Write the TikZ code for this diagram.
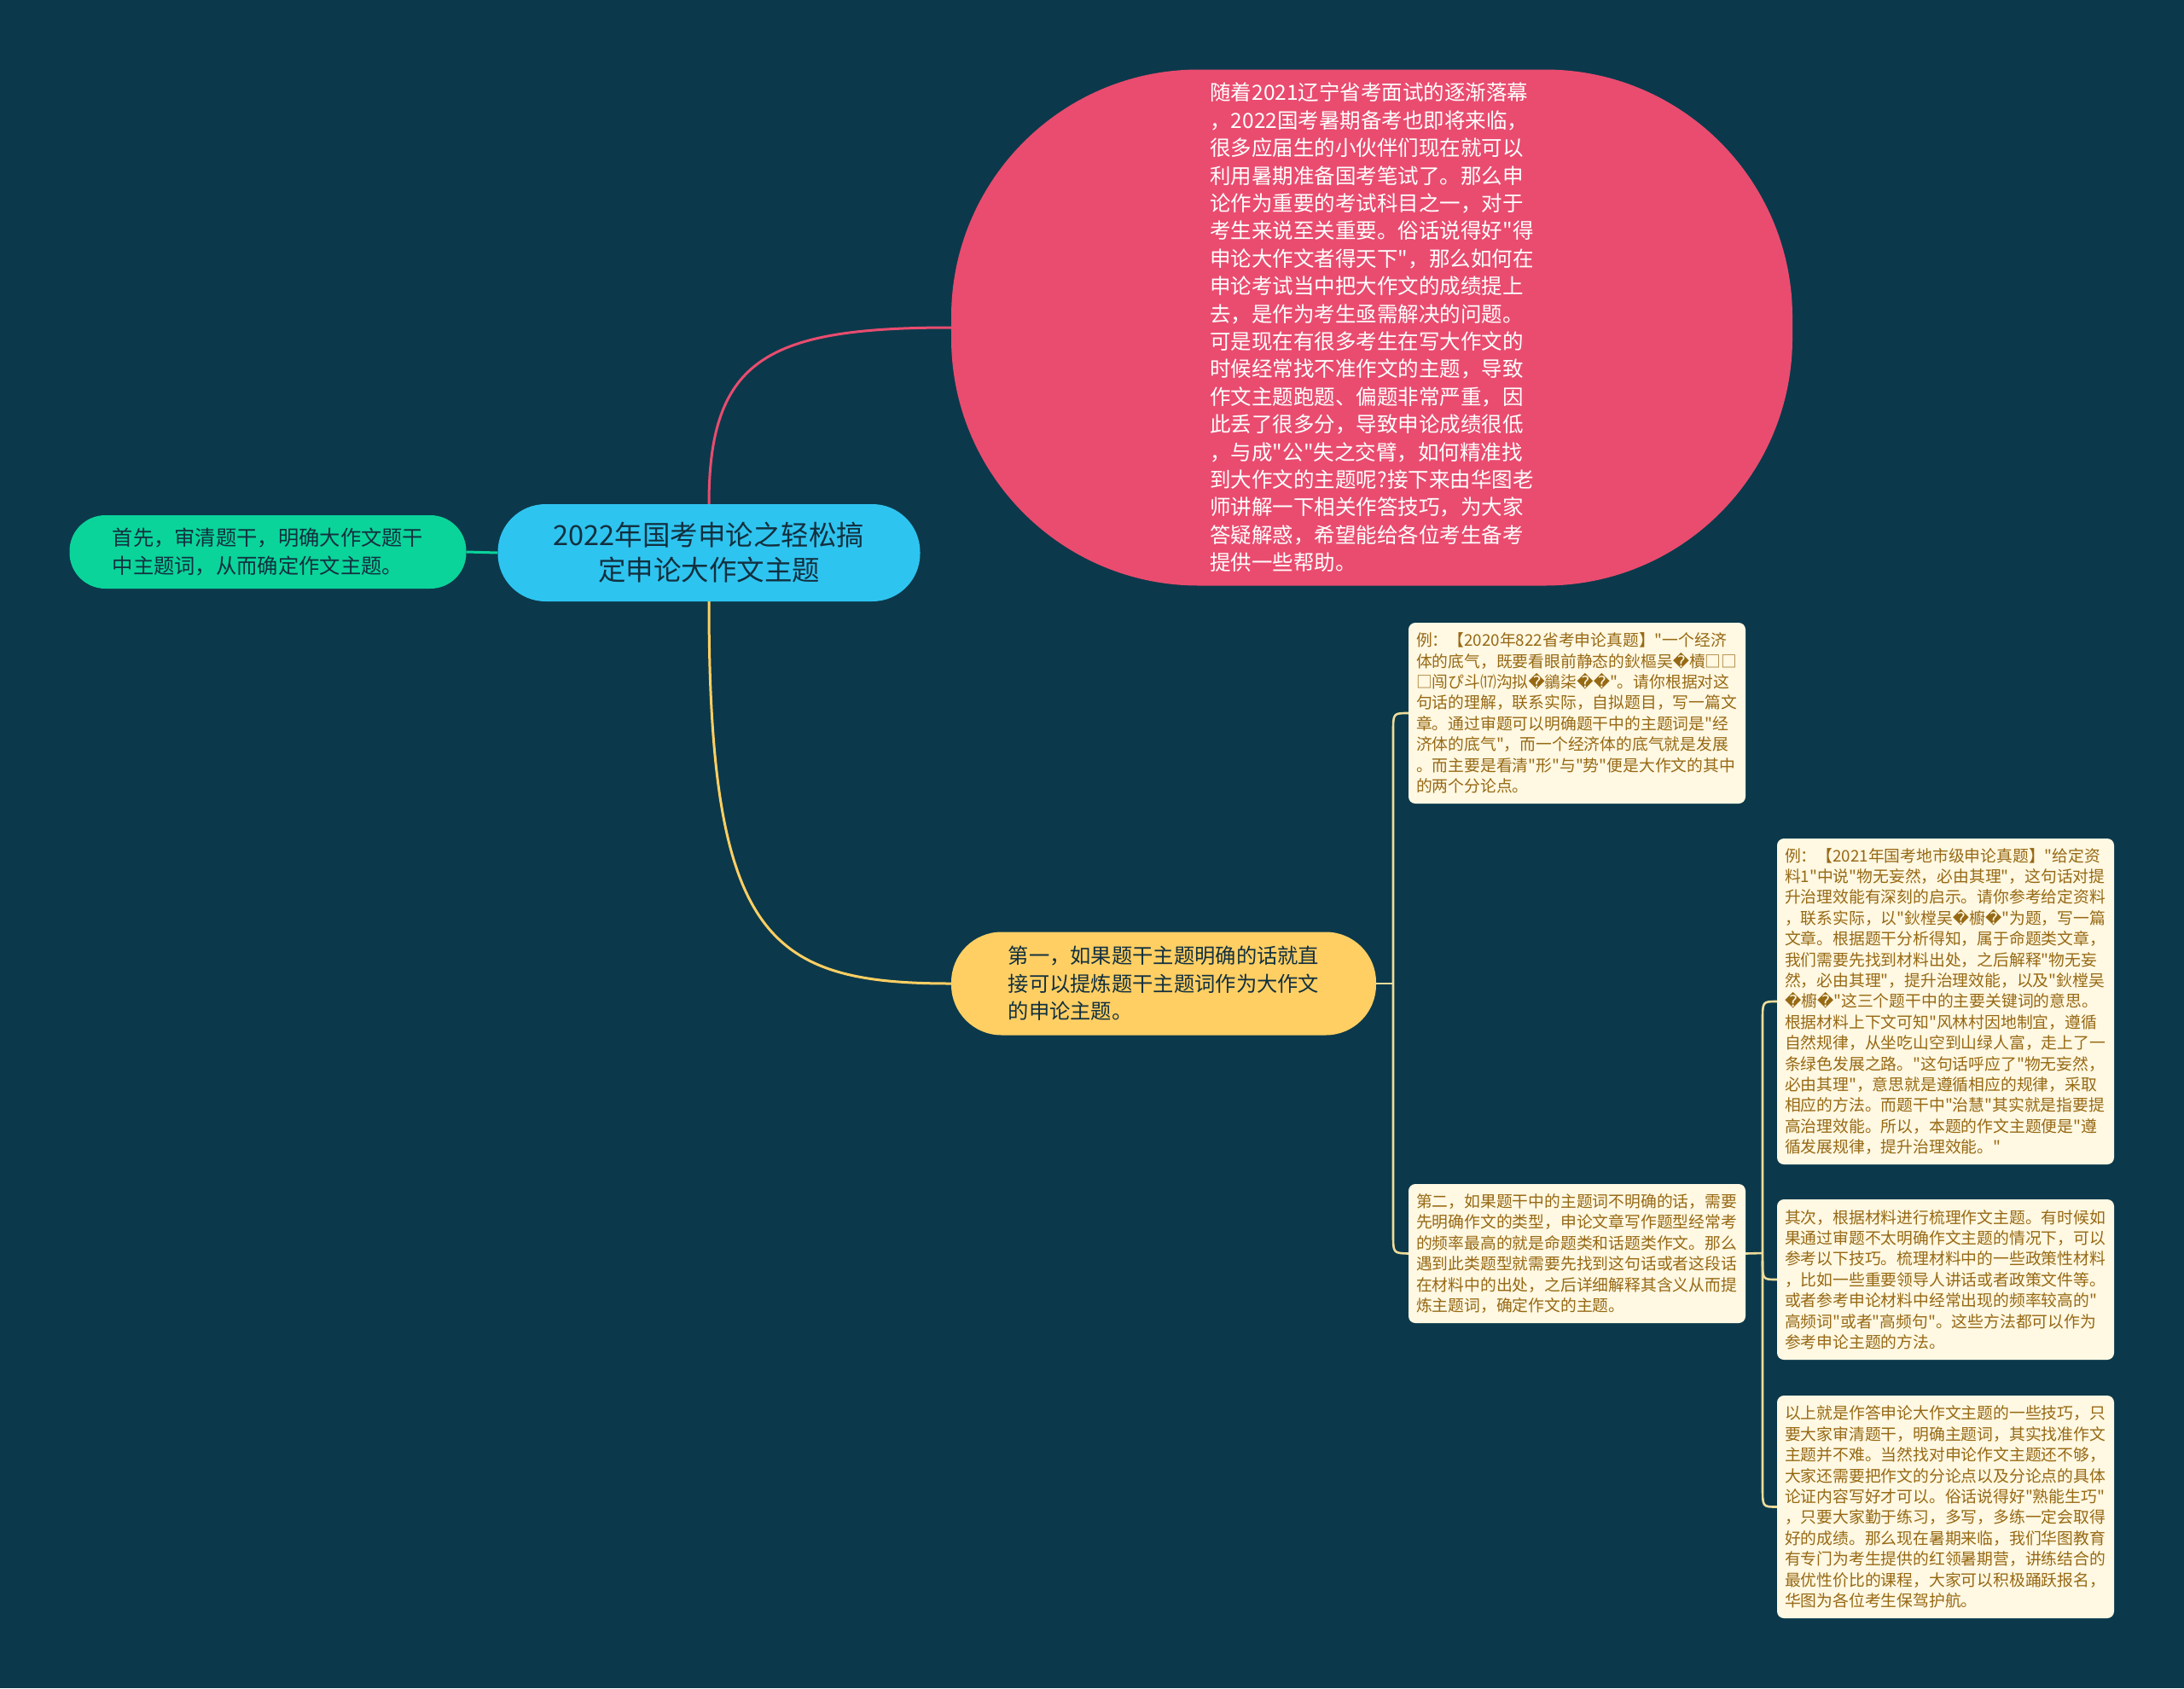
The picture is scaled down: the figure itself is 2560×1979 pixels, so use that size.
\documentclass[tikz,border=0pt]{standalone}
\usepackage{fontspec}
\setmainfont{Noto Sans CJK SC}
\newfontfamily\cjkf{Noto Sans CJK SC}
\newfontfamily\dvsfont{DejaVu Sans}
\newcommand{\repch}{{\dvsfont\symbol{"FFFD}}}
\definecolor{bgc}{HTML}{0B394B}
\definecolor{pinkc}{HTML}{E94C6F}
\definecolor{bluec}{HTML}{2EC4F0}
\definecolor{greenc}{HTML}{0AD49A}
\definecolor{yelc}{HTML}{FFCF63}
\definecolor{creamc}{HTML}{FFF8E2}
\definecolor{brownc}{HTML}{966914}
\definecolor{darkt}{HTML}{12303F}
\definecolor{brc}{HTML}{EEDC9A}
\tikzset{
  basen/.style={draw=none, inner sep=0pt},
  pinkn/.style={basen, fill=pinkc, rounded corners=290pt, text=white, align=left,
    font=\cjkf\fontsize{24.5}{32.4}\selectfont, minimum width=986pt, minimum height=605pt},
  centn/.style={basen, fill=bluec, rounded corners=56pt, text=darkt, align=center,
    font=\cjkf\fontsize{32.5}{41}\selectfont, minimum width=495pt, minimum height=114pt},
  greenn/.style={basen, fill=greenc, rounded corners=42pt, text=darkt, align=left,
    font=\cjkf\fontsize{24.3}{32.6}\selectfont, minimum width=465pt, minimum height=86pt},
  yeln/.style={basen, fill=yelc, rounded corners=59pt, text=darkt, align=left,
    font=\cjkf\fontsize{24.3}{32.6}\selectfont, minimum width=498pt, minimum height=121pt},
  creamn/.style={basen, fill=creamc, rounded corners=8pt, text=brownc, align=left,
    inner xsep=9pt, text width=377pt,
    font=\cjkf\fontsize{18.8}{24.4}\selectfont},
  pinkline/.style={draw=pinkc, line width=3pt},
  yline/.style={draw=yelc, line width=3pt},
  gline/.style={draw=greenc, line width=3pt},
  brline/.style={draw=brc, line width=2.6pt},
}
\begin{document}
\begin{tikzpicture}[x=1pt,y=-1pt]
\fill[bgc] (0,0) rectangle (2560,1979);
\useasboundingbox (0,0) rectangle (2560,1979);

\coordinate (j1) at (1633,1153);
\coordinate (j2) at (2066,1469);

% nodes
\node[centn] (cen) at (831,648) {2022年国考申论之轻松搞\\定申论大作文主题};
\node[greenn] (grn) at (314,647) {首先，审清题干，明确大作文题干\\中主题词，从而确定作文主题。};
\node[pinkn] (pk) at (1608,384) {随着2021辽宁省考面试的逐渐落幕\\
，2022国考暑期备考也即将来临，\\
很多应届生的小伙伴们现在就可以\\
利用暑期准备国考笔试了。那么申\\
论作为重要的考试科目之一，对于\\
考生来说至关重要。俗话说得好"得\\
申论大作文者得天下"，那么如何在\\
申论考试当中把大作文的成绩提上\\
去，是作为考生亟需解决的问题。\\
可是现在有很多考生在写大作文的\\
时候经常找不准作文的主题，导致\\
作文主题跑题、偏题非常严重，因\\
此丢了很多分，导致申论成绩很低\\
，与成"公"失之交臂，如何精准找\\
到大作文的主题呢?接下来由华图老\\
师讲解一下相关作答技巧，为大家\\
答疑解惑，希望能给各位考生备考\\
提供一些帮助。};
\node[yeln] (yel) at (1364,1153) {第一，如果题干主题明确的话就直\\接可以提炼题干主题词作为大作文\\的申论主题。};

\node[creamn, minimum height=212pt] (bA) at (1848.5,836) {例：【2020年822省考申论真题】"一个经济\\
体的底气，既要看眼前静态的鈥樞吴\repch{}櫝□□\\
□闯ぴ斗⒄沟拟\repch{}鶲柒\repch{}\repch{}"。请你根据对这\\
句话的理解，联系实际，自拟题目，写一篇文\\
章。通过审题可以明确题干中的主题词是"经\\
济体的底气"，而一个经济体的底气就是发展\\
。而主要是看清"形"与"势"便是大作文的其中\\
的两个分论点。};

\node[creamn, minimum height=163pt] (b2) at (1848.5,1469.5) {第二，如果题干中的主题词不明确的话，需要\\
先明确作文的类型，申论文章写作题型经常考\\
的频率最高的就是命题类和话题类作文。那么\\
遇到此类题型就需要先找到这句话或者这段话\\
在材料中的出处，之后详细解释其含义从而提\\
炼主题词，确定作文的主题。};

\node[creamn, minimum height=382pt] (bB) at (2280.5,1174) {例：【2021年国考地市级申论真题】"给定资\\
料1"中说"物无妄然，必由其理"，这句话对提\\
升治理效能有深刻的启示。请你参考给定资料\\
，联系实际，以"鈥樘吴\repch{}櫥\repch{}"为题，写一篇\\
文章。根据题干分析得知，属于命题类文章，\\
我们需要先找到材料出处，之后解释"物无妄\\
然，必由其理"，提升治理效能，以及"鈥樘吴\\
\repch{}櫥\repch{}"这三个题干中的主要关键词的意思。\\
根据材料上下文可知"风林村因地制宜，遵循\\
自然规律，从坐吃山空到山绿人富，走上了一\\
条绿色发展之路。"这句话呼应了"物无妄然，\\
必由其理"，意思就是遵循相应的规律，采取\\
相应的方法。而题干中"治慧"其实就是指要提\\
高治理效能。所以，本题的作文主题便是"遵\\
循发展规律，提升治理效能。"};

\node[creamn, minimum height=188pt] (bC) at (2280.5,1500) {其次，根据材料进行梳理作文主题。有时候如\\
果通过审题不太明确作文主题的情况下，可以\\
参考以下技巧。梳理材料中的一些政策性材料\\
，比如一些重要领导人讲话或者政策文件等。\\
或者参考申论材料中经常出现的频率较高的"\\
高频词"或者"高频句"。这些方法都可以作为\\
参考申论主题的方法。};

\node[creamn, minimum height=261pt] (bD) at (2280.5,1766.5) {以上就是作答申论大作文主题的一些技巧，只\\
要大家审清题干，明确主题词，其实找准作文\\
主题并不难。当然找对申论作文主题还不够，\\
大家还需要把作文的分论点以及分论点的具体\\
论证内容写好才可以。俗话说得好"熟能生巧"\\
，只要大家勤于练习，多写，多练一定会取得\\
好的成绩。那么现在暑期来临，我们华图教育\\
有专门为考生提供的红领暑期营，讲练结合的\\
最优性价比的课程，大家可以积极踊跃报名，\\
华图为各位考生保驾护航。};

% connectors
\draw[gline] (cen.west) -- (grn.east);
\draw[pinkline] (cen.north) .. controls (831,420) and (900,384) .. (pk.west);
\draw[yline] (cen.south) .. controls (831,1100) and (900,1153) .. (yel.west);

\draw[brline] (yel.east) -- (j1);
\draw[brline] (bA.west) .. controls (1633,836) .. (1633,858) -- (1633,1447) .. controls (1633,1469) .. (b2.west);

\draw[brline] (b2.east) -- (j2);
\draw[brline] (bB.west) .. controls (2066,1174) .. (2066,1196) -- (2066,1744) .. controls (2066,1766.5) .. (bD.west);
\draw[brline] (2066,1478) .. controls (2066,1500) .. (bC.west);
\end{tikzpicture}
\end{document}
